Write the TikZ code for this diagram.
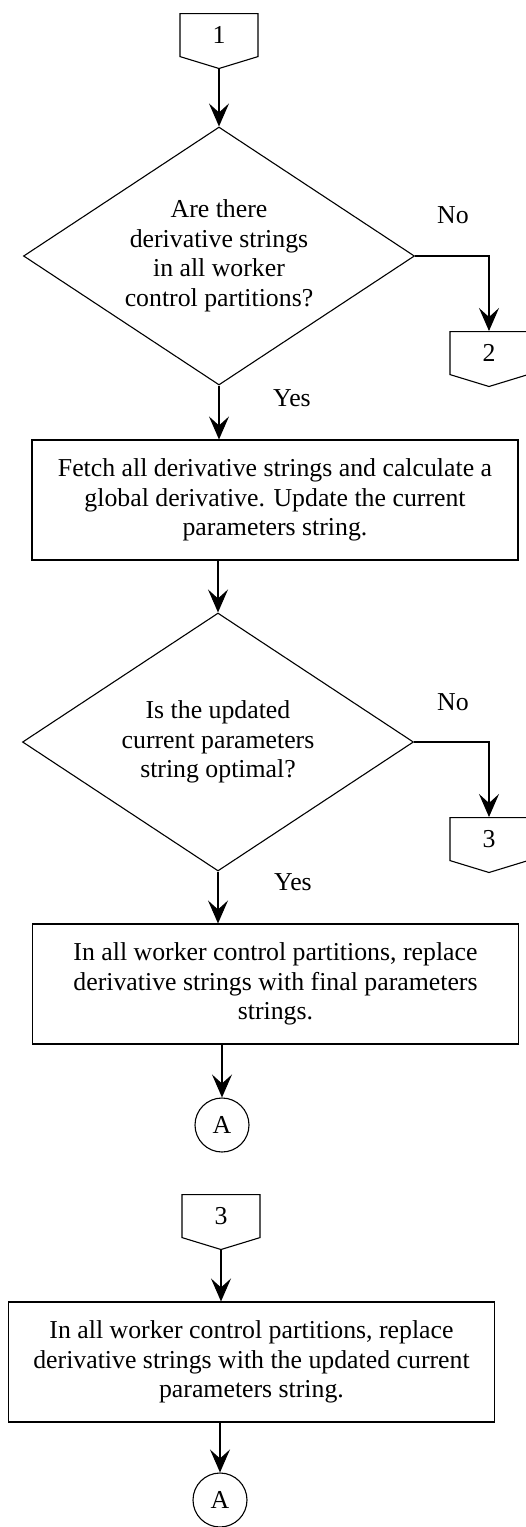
\documentclass[tikz,border=0pt]{standalone}
\usepackage{fontspec}
\setmainfont{Liberation Serif}
\usetikzlibrary{shapes,arrows.meta,calc}

\begin{document}
\begin{tikzpicture}[x=1pt, y=-1pt, line width=1.1pt,
  font=\fontsize{25.8}{29.5}\selectfont,
  >={Stealth[length=23pt, width=20pt, inset=9pt]},
  offpage/.style={draw, shape=signal, signal to=south, signal pointer angle=146,
    minimum width=78pt, minimum height=45pt, inner sep=0pt},
  decision/.style={draw, diamond, aspect=1.515, minimum width=391pt,
    minimum height=258pt, inner sep=0pt, align=center},
  process/.style={draw, rectangle, minimum width=486pt, minimum height=120pt,
    inner sep=0pt, align=center},
  onpage/.style={draw, circle, minimum size=54pt, inner sep=0pt}]
\useasboundingbox (0,0) rectangle (526,1527);

\node[offpage, anchor=north] (c1) at (219,13) {1};
\node[decision] (d1) at (219,256) {Are there\\derivative strings\\in all worker\\control partitions?};
\node[offpage, anchor=north] (c2) at (489,331) {2};
\node[process] (p1) at (275,500) {Fetch all derivative strings and calculate a\\global derivative. Update the current\\parameters string.};
\node[decision] (d2) at (218,742) {Is the updated\\current parameters\\string optimal?};
\node[offpage, anchor=north] (c3) at (489,817) {3};
\node[process] (p2) at (275.5,984) {In all worker control partitions, replace\\derivative strings with final parameters\\strings.};
\node[onpage] (a1) at (222,1125) {A};
\node[offpage, anchor=north] (c4) at (221,1194) {3};
\node[process] (p3) at (251.5,1362) {In all worker control partitions, replace\\derivative strings with the updated current\\parameters string.};
\node[onpage] (a2) at (220,1500) {A};

\node (no1) at (453,215) {No};
\node (yes1) at (292,398) {Yes};
\node (no2) at (453,702) {No};
\node (yes2) at (293,882) {Yes};

\draw[->] (c1.south) -- (d1.north);
\draw[->] (d1.east) -| (c2.north);
\draw[->] (d1.south) -- (d1.south |- p1.north);
\draw[->] (d2.north |- p1.south) -- (d2.north);
\draw[->] (d2.east) -| (c3.north);
\draw[->] (d2.south) -- (d2.south |- p2.north);
\draw[->] (a1.north |- p2.south) -- (a1.north);
\draw[->] (c4.south) -- (c4.south |- p3.north);
\draw[->] (a2.north |- p3.south) -- (a2.north);
\end{tikzpicture}
\end{document}
